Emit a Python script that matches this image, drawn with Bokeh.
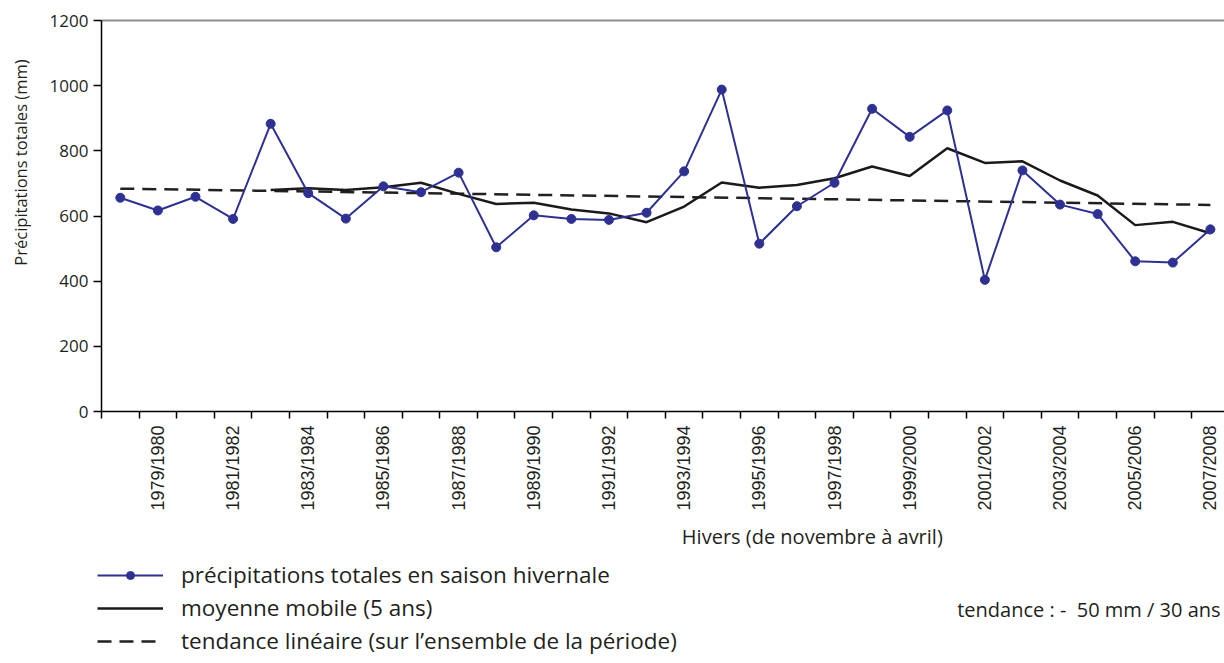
from math import pi
from bokeh.plotting import figure
from bokeh.models import (Range1d, FixedTicker, Label, Legend, LegendItem, LinearAxis)
from bokeh.embed import file_html
from bokeh.resources import INLINE

# ---- data ----
seasons = [f"{y}/{y+1}" for y in range(1978, 2008)]
precip = [656, 617, 659, 591, 883, 670, 592, 691, 673, 733,
          504, 602, 591, 588, 610, 737, 988, 515, 630, 702,
          929, 843, 924, 404, 740, 635, 606, 461, 457, 559]
mov_avg_start = 4
mov_avg = [680, 685, 680, 688, 702, 668, 637, 641, 620, 608,
           581, 629, 703, 687, 695, 716, 752, 723, 808, 763,
           768, 709, 663, 572, 582, 547]
trend_start, trend_end = 684, 634
y_ticks = [0, 200, 400, 600, 800, 1000, 1200]

BLUE = "#2e3192"
TXT = "#231f20"
FONT = "Open Sans"

W, H = 1224, 663
xs = list(range(len(seasons)))
xs_ma = xs[mov_avg_start:]
n = len(seasons)

p = figure(width=W, height=H, output_backend="svg", toolbar_location=None,
           x_range=Range1d(-3.187, 29.375), y_range=Range1d(-773.4, 1261.4),
           x_axis_location=None, y_axis_location=None,
           min_border_left=0, min_border_right=0, min_border_top=0,
           min_border_bottom=0)
p.outline_line_color = None
p.grid.visible = False
p.background_fill_color = "white"
p.border_fill_color = "white"

# axes fixed at the data origin
xa = LinearAxis(fixed_location=0, bounds=(-0.5, n))
xa.ticker = FixedTicker(ticks=[i for i in xs if i % 2 == 1],
                        minor_ticks=[i - 0.5 for i in range(n + 1)])
xa.major_label_overrides = {i: seasons[i] for i in xs if i % 2 == 1}
xa.major_label_orientation = pi / 2
xa.major_tick_out = 0
xa.major_tick_in = 0
xa.minor_tick_out = 7
xa.minor_tick_in = 0
xa.minor_tick_line_color = "black"
xa.minor_tick_line_width = 1.5
xa.axis_line_color = "black"
xa.axis_line_width = 1.5
xa.major_label_standoff = 7
xa.major_label_text_font = "Liberation Sans"
xa.major_label_text_font_size = "18px"
xa.major_label_text_color = TXT
p.add_layout(xa, "below")

ya = LinearAxis(fixed_location=-0.5, bounds=(0, 1200))
ya.ticker = FixedTicker(ticks=y_ticks, minor_ticks=[])
ya.major_tick_out = 8
ya.major_tick_in = 0
ya.major_tick_line_width = 1.5
ya.axis_line_width = 1.5
ya.axis_line_color = "black"
ya.major_label_standoff = 5
ya.major_label_text_font = FONT
ya.major_label_text_font_size = "17px"
ya.major_label_text_color = TXT
p.add_layout(ya, "left")

# top frame line (grey)
p.segment(x0=[-0.5], y0=[y_ticks[-1]], x1=[n], y1=[y_ticks[-1]],
          line_color="#8c8c8c", line_width=2)

# trend line
tr = p.line([xs[0], xs[-1]], [trend_start, trend_end], line_color="#231f20",
            line_width=2.5, line_dash="14 8")
# moving average
ma = p.line(xs_ma, mov_avg, line_color="#1a1a1a", line_width=2.5)
# precipitation
bl = p.line(xs, precip, line_color=BLUE, line_width=2)
bs = p.scatter(xs, precip, size=9, marker="circle", fill_color=BLUE, line_color=BLUE)

# texts
p.add_layout(Label(x=-2.655, y=764, text="Précipitations totales (mm)", angle=pi / 2,
                   text_align="center", text_baseline="middle", text_font=FONT,
                   text_font_size="16.5px", text_color=TXT))
p.add_layout(Label(x=18.41, y=-384, text="Hivers (de novembre à avril)",
                   text_align="center", text_baseline="middle", text_font=FONT,
                   text_font_size="20px", text_color=TXT))
p.add_layout(Label(x=29.27, y=-608, text="tendance : -\u00a0 50 mm / 30 ans",
                   text_align="right", text_baseline="middle", text_font=FONT,
                   text_font_size="20px", text_color=TXT))

legend = Legend(items=[
    LegendItem(label="précipitations totales en saison hivernale", renderers=[bl, bs]),
    LegendItem(label="moyenne mobile (5 ans)", renderers=[ma]),
    LegendItem(label="tendance linéaire (sur l’ensemble de la période)", renderers=[tr]),
], location=(97, 7), orientation="vertical", glyph_width=66, glyph_height=20,
    label_height=20, spacing=2, padding=0, margin=0, label_standoff=18,
    label_text_font=FONT, label_text_font_size="22.5px", label_text_color=TXT,
    border_line_color=None, background_fill_alpha=0)
p.add_layout(legend, "center")

open("out.html", "w").write(file_html(p, INLINE))
